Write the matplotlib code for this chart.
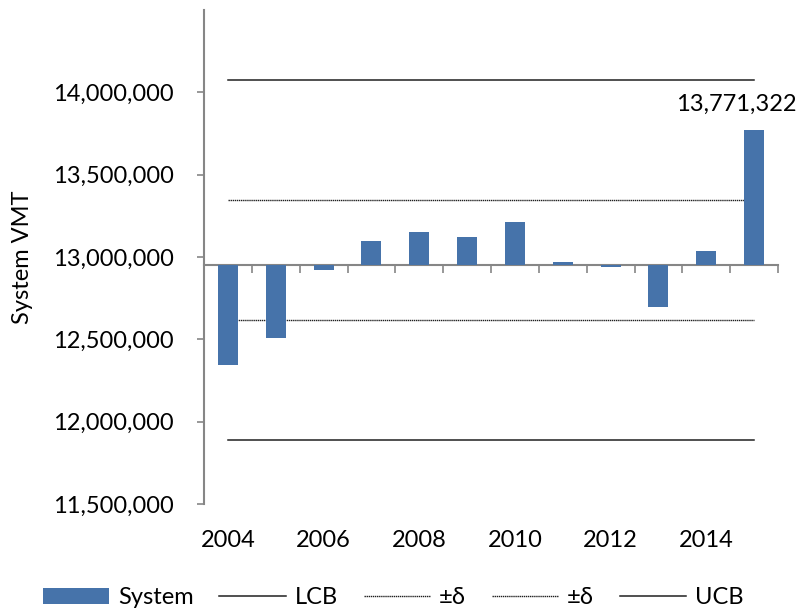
import matplotlib
matplotlib.use("Agg")
import matplotlib.pyplot as plt
import numpy as np
from matplotlib.ticker import FuncFormatter, FixedLocator

years = [2004, 2005, 2006, 2007, 2008, 2009, 2010, 2011, 2012, 2013, 2014, 2015]
system = [12346000, 12511000, 12919000, 13095000, 13154000, 13123000,
          13214000, 12970000, 12941000, 12694000, 13036000, 13771322]
lcb = 11888000
delta_lo = 12617000
delta_hi = 13346000
ucb = 14077000
axis_cross = 12950000
tick_label_years = [2004, 2006, 2008, 2010, 2012, 2014]
y_ticks = [11500000, 12000000, 12500000, 13000000, 13500000, 14000000]

plt.rcParams['font.family'] = ['Lato', 'DejaVu Sans']
FS = 17

fig = plt.figure(figsize=(7.98, 6.10), dpi=100)
ax = fig.add_axes([204/798, 1-504/610, (778-204)/798, (504-10)/610])

x = np.arange(len(years))
vals = np.array(system, dtype=float)
bar_color = '#4673AA'
ax.bar(x, vals - axis_cross, bottom=axis_cross, width=0.42, color=bar_color,
       label='System', zorder=3)

line_col = '#202020'
ax.plot(x, [lcb]*len(x), color=line_col, lw=1.1, label='LCB', zorder=2)
ax.plot(x, [delta_lo]*len(x), color=line_col, lw=1.0, ls=(0, (1, 0.5)), label='±δ', zorder=2)
ax.plot(x, [delta_hi]*len(x), color=line_col, lw=1.0, ls=(0, (1, 0.5)), label='±δ', zorder=2)
ax.plot(x, [ucb]*len(x), color=line_col, lw=1.1, label='UCB', zorder=2)

ax.annotate(f"{system[-1]:,}", xy=(x[-1], system[-1]), xytext=(-13, 11),
            textcoords='offset points', ha='center', va='bottom', fontsize=FS,
            annotation_clip=False)

ax.set_xlim(-0.5, len(years) - 0.5)
ax.set_ylim(11500000, 14500000)
ax.yaxis.set_major_locator(FixedLocator(y_ticks))
ax.yaxis.set_major_formatter(FuncFormatter(lambda v, p: f"{int(v):,}"))
ax.tick_params(axis='y', direction='out', length=5, width=1.2, color='#868686',
               labelsize=FS, pad=17)
ax.set_ylabel('System VMT', fontsize=FS, labelpad=14)

spine_col = '#868686'
for s in ['top', 'right']:
    ax.spines[s].set_visible(False)
ax.spines['left'].set_color(spine_col)
ax.spines['left'].set_linewidth(1.5)
ax.spines['bottom'].set_color(spine_col)
ax.spines['bottom'].set_linewidth(1.5)
ax.spines['bottom'].set_position(('data', axis_cross))

ax.set_xticks(np.arange(len(years) + 1) - 0.5)
ax.set_xticklabels([])
ax.tick_params(axis='x', direction='out', length=6, width=1.2, color=spine_col)

sec = ax.secondary_xaxis(0)
sec.set_xticks([years.index(y) for y in tick_label_years])
sec.set_xticklabels([str(y) for y in tick_label_years], fontsize=FS)
sec.tick_params(length=0, pad=19)
sec.spines['bottom'].set_visible(False)

handles, labels = ax.get_legend_handles_labels()
order = [4, 0, 1, 2, 3]
leg = fig.legend([handles[i] for i in order], [labels[i] for i in order],
                 loc='center', bbox_to_anchor=(393/798, 1-598/610), ncol=5,
                 frameon=False, fontsize=FS, handlelength=2.8, handleheight=0.65,
                 columnspacing=1.1, handletextpad=0.38)

fig.savefig('out.png', dpi=100)
